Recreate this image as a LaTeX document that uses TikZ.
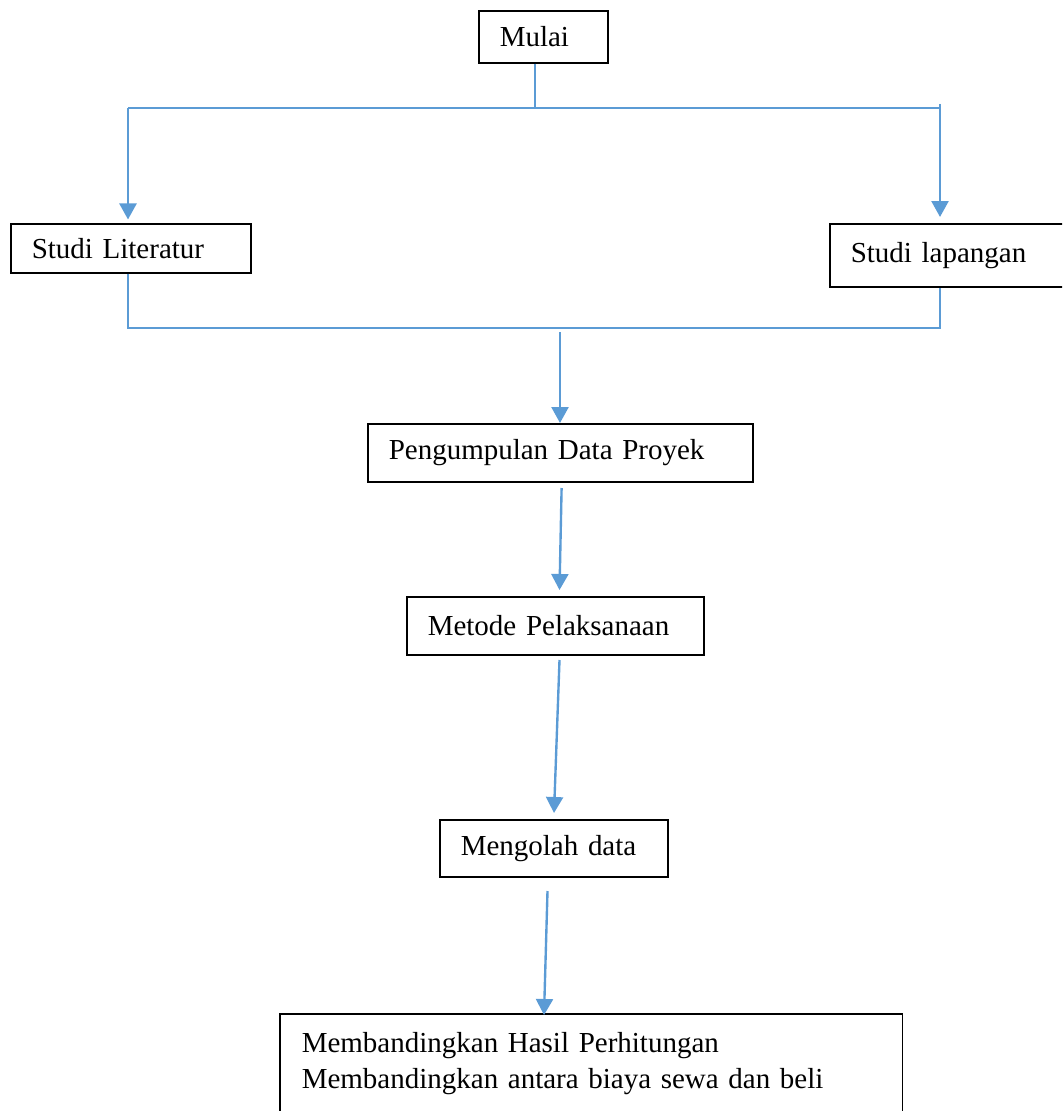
\documentclass[tikz,border=0pt]{standalone}
\usepackage{fontspec}
\setmainfont{Liberation Serif}
\usetikzlibrary{arrows.meta}
\definecolor{fblue}{HTML}{5B9BD5}
\begin{document}
\begin{tikzpicture}[x=0.02cm,y=-0.02cm,
  box/.style={draw=black, line width=0.9pt, rectangle, anchor=north west,
    inner xsep=0.42cm, inner ysep=0pt, align=left,
    font=\fontsize{16.5pt}{20.5pt}\selectfont},
  arr/.style={draw=fblue, line width=1.35pt, -{Triangle[length=0.32cm,width=0.34cm]}},
  link/.style={draw=fblue, line width=0.7pt}]
\useasboundingbox (0,0) rectangle (1062,1111);
\clip (0,0) rectangle (1062,1111);

% boxes
\node[box, minimum width=2.58cm, minimum height=1.04cm, text width=1.74cm] (mulai) at (478,10) {Mulai};
\node[box, minimum width=4.8cm, minimum height=0.98cm, text width=3.96cm] (studlit) at (10,223) {Studi Literatur};
\node[box, minimum width=4.92cm, minimum height=1.26cm, text width=4.08cm] (studlap) at (829,223) {Studi lapangan};
\node[box, minimum width=7.7cm, minimum height=1.16cm, text width=6.86cm] (peng) at (367,423) {Pengumpulan Data Proyek};
\node[box, minimum width=5.94cm, minimum height=1.16cm, text width=5.1cm] (metode) at (406,596) {Metode Pelaksanaan};
\node[box, minimum width=4.56cm, minimum height=1.14cm, text width=3.72cm] (olah) at (439,819) {Mengolah data};
\node[box, draw=none, text width=11.58cm, inner ysep=0.36cm] (fin) at (280,1014)
  {Membandingkan Hasil Perhitungan\\Membandingkan antara biaya sewa dan beli};
\draw[line width=0.9pt] (fin.north west) rectangle ([yshift=-1cm]fin.south east);

% junction coordinates
\coordinate (jtop) at (535,108);
\coordinate (hl) at (128,108);
\coordinate (hr) at (940,108);
\coordinate (rs) at (940,104);
\coordinate (bl) at (128,328);
\coordinate (br) at (940,328);
\coordinate (ms) at (560,332);
\coordinate (a2s) at (561.6,488);
\coordinate (a2e) at (559.5,590);
\coordinate (a3s) at (559.5,660);
\coordinate (a3e) at (554,813);
\coordinate (a4s) at (547.5,891);
\coordinate (a4e) at (544,1015);

% connectors
\draw[link] (mulai.south -| jtop) -- (jtop);
\draw[link] (hl) -- (hr);
\draw[arr, shorten >=2pt] (hl) -- (studlit.north -| hl);
\draw[arr, shorten >=0.12cm] (rs) -- (studlap.north -| rs);
\draw[link] (studlit.south -| bl) -- (bl) -- (br) -- (studlap.south -| br);
\draw[arr] (ms) -- (peng.north -| ms);
\draw[arr] (a2s) -- (a2e);
\draw[arr] (a3s) -- (a3e);
\draw[arr] (a4s) -- (a4e);
\end{tikzpicture}
\end{document}
